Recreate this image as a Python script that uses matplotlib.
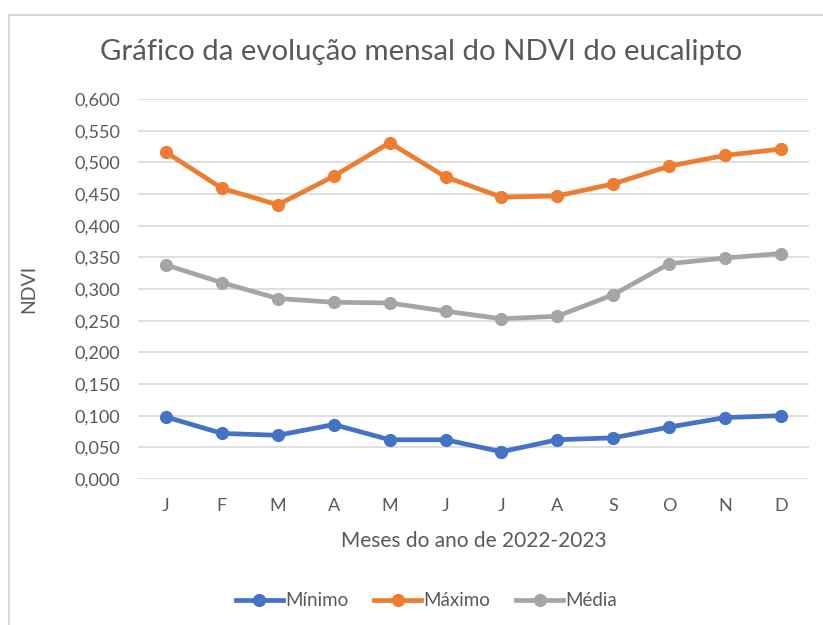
import matplotlib.pyplot as plt
from matplotlib.lines import Line2D
from matplotlib.ticker import FuncFormatter

plt.rcParams['font.family'] = ['Lato', 'DejaVu Sans']

meses = ["J", "F", "M", "A", "M", "J", "J", "A", "S", "O", "N", "D"]
minimo = [0.098, 0.072, 0.069, 0.086, 0.062, 0.062, 0.043, 0.062, 0.065, 0.082, 0.097, 0.100]
maximo = [0.516, 0.459, 0.433, 0.478, 0.531, 0.477, 0.445, 0.447, 0.466, 0.494, 0.511, 0.521]
media = [0.338, 0.310, 0.285, 0.279, 0.278, 0.265, 0.253, 0.257, 0.291, 0.340, 0.349, 0.356]

series = [
    ("Mínimo", minimo, "#4472C4"),
    ("Máximo", maximo, "#ED7D31"),
    ("Média", media, "#A5A5A5"),
]
text_color = "#595959"

fig = plt.figure(figsize=(8.23, 6.25), dpi=100)
ax = fig.add_axes([0.1677, 0.2336, 0.8153, 0.608])

x = range(len(meses))
for name, vals, color in series:
    ax.plot(x, vals, color=color, lw=3.4, marker="o", markersize=8.5,
            label=name, solid_capstyle="round", zorder=3)

ax.set_xlim(-0.5, len(meses) - 0.5)
ax.set_ylim(0, 0.6)
ax.set_yticks([i * 0.05 for i in range(13)])
ax.yaxis.set_major_formatter(FuncFormatter(lambda v, p: f"{v:.3f}".replace(".", ",")))
ax.set_xticks(list(x))
ax.set_xticklabels(meses)

ax.grid(axis="y", color="#D9D9D9", lw=1.2)
ax.set_axisbelow(True)
for s in ax.spines.values():
    s.set_visible(False)
ax.tick_params(length=0, labelsize=13, colors=text_color)
ax.tick_params(axis="y", pad=13)
ax.tick_params(axis="x", pad=14)

ax.set_ylabel("NDVI", fontsize=14, color=text_color)
ax.yaxis.set_label_coords(-0.15, 0.5)
ax.set_xlabel("Meses do ano de 2022-2023", fontsize=15, color=text_color, labelpad=12)
fig.text(0.512, 0.917, "Gráfico da evolução mensal do NDVI do eucalipto",
         ha="center", va="center", fontsize=21.2, color=text_color)

handles = [Line2D([0], [0], color=c, lw=3.4, marker="o", markersize=8.5) for _, _, c in series]
fig.legend(handles, [n for n, _, _ in series], loc="center", bbox_to_anchor=(0.518, 0.039),
           ncol=3, frameon=False, fontsize=13.5, labelcolor=text_color,
           handlelength=2.5, handletextpad=0.1, columnspacing=1.4)

# chart border (only top and left edges are visible in the crop)
fig.add_artist(Line2D([8.5 / 823, 1], [1 - 14.5 / 625] * 2, transform=fig.transFigure,
                      color="#D9D9D9", lw=1.5))
fig.add_artist(Line2D([8.5 / 823] * 2, [0, 1 - 14.5 / 625], transform=fig.transFigure,
                      color="#D9D9D9", lw=1.5))

fig.savefig("out.png", dpi=100, facecolor="white")
